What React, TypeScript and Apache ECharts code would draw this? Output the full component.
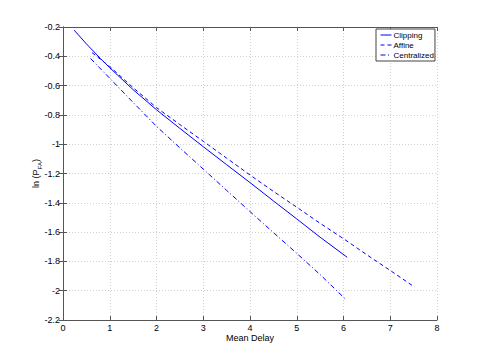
import React, { useEffect, useRef } from "react";
import * as echarts from "echarts";

const clippingX = [0.24, 0.5, 0.8, 1.0, 1.5, 2.0, 2.5, 3.0, 3.5, 4.0, 4.5, 5.0, 5.5, 6.08];
const clippingY = [-0.222, -0.315, -0.415, -0.478, -0.628, -0.765, -0.892, -1.017, -1.14, -1.262, -1.387, -1.51, -1.635, -1.772];

const affineX = [0.62, 1.0, 1.5, 2.0, 2.5, 3.0, 3.5, 4.0, 4.5, 5.0, 5.5, 6.0, 6.5, 7.0, 7.52];
const affineY = [-0.375, -0.47, -0.614, -0.75, -0.866, -0.98, -1.095, -1.21, -1.322, -1.43, -1.54, -1.645, -1.755, -1.862, -1.975];

const centralizedX = [0.59, 1.0, 1.5, 2.0, 2.5, 3.0, 3.5, 4.0, 4.5, 5.0, 5.5, 6.05];
const centralizedY = [-0.415, -0.55, -0.715, -0.878, -1.025, -1.17, -1.315, -1.46, -1.603, -1.745, -1.89, -2.06];

const seriesNames = ["Clipping", "Affine", "Centralized"];
const xTicks = { min: 0, max: 8, interval: 1 };
const yTicks = { min: -2.2, max: -0.2, interval: 0.2 };

const FONT = "'Liberation Sans', Arial, Helvetica, sans-serif";
const BLUE = "#0000ff";
const AXIS = "#555";

function zip(xs: number[], ys: number[]) {
  return xs.map((x, i) => [x, ys[i]]);
}

export default function App() {
  const ref = useRef<HTMLDivElement>(null);
  useEffect(() => {
    if (!ref.current) return;
    const chart = echarts.init(ref.current, undefined, { renderer: "svg" });
    const fmt = (v: number) => String(+v.toFixed(1));
    const baseAxisLine = { show: true, lineStyle: { color: AXIS, width: 1 } };
    const tick = { show: true, inside: true, length: 4, lineStyle: { color: AXIS } };
    const split = { show: true, lineStyle: { color: "#d0d0d0", type: [1, 2], width: 1 } };
    chart.setOption({
      animation: false,
      backgroundColor: "#fff",
      textStyle: { fontFamily: FONT },
      grid: { left: 63, right: 46, top: 27, bottom: 40, containLabel: false },
      legend: {
        data: seriesNames,
        orient: "vertical",
        left: 376,
        top: 29,
        padding: [2, 1, 2, 4],
        itemGap: 2,
        itemWidth: 11,
        itemHeight: 8,
        borderColor: "#444",
        borderWidth: 1,
        borderRadius: 0,
        backgroundColor: "#fff",
        itemStyle: { opacity: 0 },
        lineStyle: { width: 1 },
        textStyle: { fontSize: 8, color: "#000", fontFamily: FONT, lineHeight: 8, padding: [0, 0, 0, -3] },
      },
      xAxis: [
        {
          type: "value",
          min: xTicks.min,
          max: xTicks.max,
          interval: xTicks.interval,
          name: "Mean Delay",
          nameLocation: "middle",
          nameGap: 13,
          nameMoveOverlap: false,
          nameTextStyle: { fontSize: 9, color: "#000", fontFamily: FONT },
          axisLine: baseAxisLine,
          axisTick: tick,
          axisLabel: { fontSize: 9, color: "#000", margin: 3, fontFamily: FONT, formatter: fmt },
          splitLine: split,
        },
        {
          type: "value",
          position: "top",
          min: xTicks.min,
          max: xTicks.max,
          interval: xTicks.interval,
          axisLine: baseAxisLine,
          axisTick: tick,
          axisLabel: { show: false },
          splitLine: { show: false },
        },
      ],
      yAxis: [
        {
          type: "value",
          min: yTicks.min,
          max: yTicks.max,
          interval: yTicks.interval,
          name: "{a|ln (P}{b|FA}{a|)}",
          nameLocation: "middle",
          nameGap: 20,
          nameMoveOverlap: false,
          nameRotate: 90,
          nameTextStyle: {
            fontFamily: FONT,
            color: "#000",
            rich: {
              a: { fontSize: 9, color: "#000", fontFamily: FONT, lineHeight: 14, verticalAlign: "middle" },
              b: { fontSize: 6, color: "#000", fontFamily: FONT, lineHeight: 6, padding: [7, 0, 0, 0], verticalAlign: "middle" },
            },
          },
          axisLine: baseAxisLine,
          axisTick: tick,
          axisLabel: { fontSize: 9, color: "#000", margin: 3, fontFamily: FONT, formatter: fmt },
          splitLine: split,
        },
        {
          type: "value",
          position: "right",
          min: yTicks.min,
          max: yTicks.max,
          interval: yTicks.interval,
          axisLine: baseAxisLine,
          axisTick: tick,
          axisLabel: { show: false },
          splitLine: { show: false },
        },
      ],
      series: [
        {
          name: seriesNames[0],
          type: "line",
          data: zip(clippingX, clippingY),
          showSymbol: false,
          symbol: "none",
          lineStyle: { color: BLUE, width: 1, type: "solid" },
          itemStyle: { color: BLUE },
        },
        {
          name: seriesNames[1],
          type: "line",
          data: zip(affineX, affineY),
          showSymbol: false,
          symbol: "none",
          lineStyle: { color: BLUE, width: 1, type: [4, 3] },
          itemStyle: { color: BLUE },
        },
        {
          name: seriesNames[2],
          type: "line",
          data: zip(centralizedX, centralizedY),
          showSymbol: false,
          symbol: "none",
          lineStyle: { color: BLUE, width: 1, type: [5, 2.5, 1, 2.5] },
          itemStyle: { color: BLUE },
        },
      ],
    });
    return () => chart.dispose();
  }, []);
  return (
    <div
      ref={ref}
      style={{ position: "fixed", left: 0, top: 0, width: 483, height: 360, background: "#fff" }}
    />
  );
}
